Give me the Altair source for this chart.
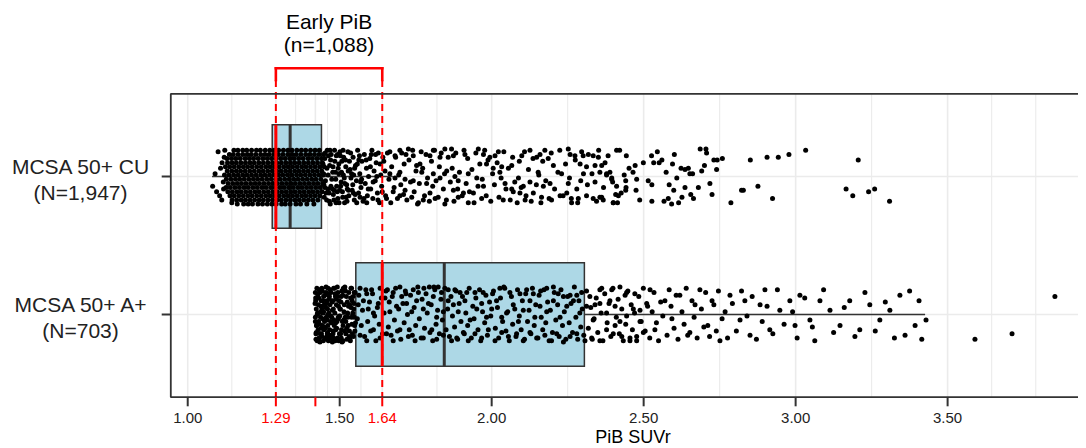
import altair as alt
import pandas as pd

# ---------------- categories, labels, breaks ----------------
GROUP_POS = [1, 2]
GROUP_LABELS = ["MCSA 50+ CU\n(N=1,947)", "MCSA 50+ A+\n(N=703)"]
ANNOT_LINES = ["Early PiB", "(n=1,088)"]
X_TITLE = "PiB SUVr"

X_BREAKS = [1.00, 1.29, 1.42, 1.50, 1.64, 2.00, 2.50, 3.00, 3.50]
X_LABELS = ["1.00", "1.29", "", "1.50", "1.64", "2.00", "2.50", "3.00", "3.50"]
X_BREAK_RED = [False, True, True, False, True, False, False, False, False]
X_MINOR = [1.145, 1.355, 1.46, 1.57, 1.82, 2.25, 2.75, 3.25, 3.645, 3.79]
CUTOFFS = [1.29, 1.64]

# ---------------- box statistics ----------------
BOX_LO = [1.08, 1.42]
BOX_Q1 = [1.278, 1.553]
BOX_MED = [1.337, 1.844]
BOX_Q3 = [1.440, 2.305]
BOX_HI = [1.675, 3.426]
BOX_REDLINE = [1.29, 1.64]

# ---------------- jittered points: (SUVr, vertical jitter in 1/100 of a category) ----------------
CU_CORE_ROWS = [
    (-19, [1.152, 1.165, 1.181, 1.194, 1.210, 1.226, 1.239, 1.255, 1.270, 1.284, 1.299, 1.315, 1.330, 1.343, 1.359, 1.374, 1.388, 1.404, 1.419, 1.433]),
    (-16, [1.137, 1.150, 1.166, 1.181, 1.196, 1.209, 1.224, 1.240, 1.254, 1.268, 1.284, 1.298, 1.313, 1.329, 1.344, 1.357, 1.372, 1.388, 1.402, 1.417, 1.432, 1.447]),
    (-13, [1.129, 1.144, 1.158, 1.173, 1.189, 1.203, 1.217, 1.232, 1.247, 1.262, 1.276, 1.291, 1.306, 1.321, 1.336, 1.350, 1.365, 1.380, 1.396, 1.410, 1.425, 1.440]),
    (-10, [1.131, 1.146, 1.160, 1.175, 1.190, 1.205, 1.219, 1.234, 1.249, 1.264, 1.279, 1.293, 1.308, 1.323, 1.338, 1.352, 1.367, 1.382, 1.397, 1.412, 1.427, 1.443]),
    (-7, [1.124, 1.138, 1.153, 1.168, 1.183, 1.197, 1.212, 1.227, 1.242, 1.257, 1.271, 1.286, 1.301, 1.316, 1.330, 1.345, 1.360, 1.375, 1.389, 1.404, 1.419, 1.434, 1.449]),
    (-4, [1.130, 1.145, 1.160, 1.174, 1.189, 1.204, 1.219, 1.234, 1.248, 1.263, 1.278, 1.293, 1.307, 1.322, 1.337, 1.352, 1.366, 1.381, 1.396, 1.411, 1.426, 1.441]),
    (-1, [1.121, 1.136, 1.151, 1.166, 1.181, 1.195, 1.210, 1.225, 1.240, 1.254, 1.269, 1.284, 1.299, 1.313, 1.328, 1.343, 1.358, 1.372, 1.387, 1.402, 1.417, 1.432, 1.446]),
    (2, [1.127, 1.142, 1.157, 1.171, 1.186, 1.201, 1.216, 1.230, 1.245, 1.260, 1.275, 1.290, 1.304, 1.319, 1.334, 1.349, 1.363, 1.378, 1.393, 1.408, 1.422, 1.438]),
    (5, [1.133, 1.148, 1.163, 1.177, 1.192, 1.207, 1.222, 1.236, 1.251, 1.266, 1.281, 1.295, 1.310, 1.325, 1.340, 1.354, 1.369, 1.384, 1.399, 1.414, 1.428, 1.444]),
    (8, [1.126, 1.140, 1.155, 1.170, 1.185, 1.199, 1.214, 1.229, 1.244, 1.258, 1.273, 1.288, 1.303, 1.317, 1.332, 1.347, 1.362, 1.376, 1.391, 1.406, 1.421, 1.436, 1.451]),
    (11, [1.132, 1.147, 1.162, 1.176, 1.191, 1.206, 1.221, 1.235, 1.250, 1.265, 1.280, 1.294, 1.309, 1.324, 1.339, 1.353, 1.368, 1.383, 1.398, 1.412, 1.427, 1.442]),
    (14, [1.139, 1.153, 1.168, 1.183, 1.198, 1.212, 1.227, 1.242, 1.257, 1.271, 1.286, 1.301, 1.316, 1.330, 1.345, 1.360, 1.375, 1.389, 1.404, 1.419, 1.434]),
    (17, [1.146, 1.161, 1.176, 1.190, 1.205, 1.220, 1.235, 1.249, 1.264, 1.279, 1.294, 1.308, 1.323, 1.338, 1.353, 1.367, 1.382, 1.397, 1.412, 1.428]),
    (20, [1.163, 1.184, 1.199, 1.213, 1.231, 1.246, 1.262, 1.277, 1.291, 1.309, 1.321, 1.337, 1.356, 1.371, 1.392, 1.415]),
]

CU_FRINGE = [(1.082, 7), (1.100, -18), (1.112, 17), (1.117, 4), (1.108, -6), (1.095, 11),
             (1.120, -14), (1.105, 14), (1.113, -10), (1.145, 19), (1.122, -19), (1.118, 9), (1.090, -2)]

CU_MID = [
    (1.452, -17), (1.458, -6), (1.461, 9), (1.466, 18), (1.470, -12), (1.474, 2), (1.479, 13), (1.483, -19),
    (1.486, -3), (1.490, 7), (1.494, 16), (1.497, -9), (1.502, -15), (1.505, 4), (1.509, 11), (1.512, -1),
    (1.516, 19), (1.519, -12), (1.523, 6), (1.527, -18), (1.530, 14), (1.534, -5), (1.537, 1), (1.541, 10),
    (1.544, -14), (1.548, 17), (1.552, -8), (1.555, 3), (1.559, -19), (1.562, 12), (1.566, -2), (1.570, 8),
    (1.573, -11), (1.577, 18), (1.581, -16), (1.584, 5), (1.588, -6), (1.591, 14), (1.595, 0), (1.599, -13),
    (1.602, 9), (1.606, -19), (1.609, 16), (1.613, -4), (1.617, 3), (1.620, -10), (1.624, 12), (1.627, -17),
    (1.631, 19), (1.635, -1), (1.638, 7), (1.642, -14),
    (1.455, 12), (1.463, -15), (1.471, 7), (1.478, -7), (1.488, 19), (1.493, -16), (1.500, 10), (1.507, -11),
    (1.515, 1), (1.521, 15), (1.528, -4), (1.536, -17), (1.543, 6), (1.551, 13), (1.558, -9), (1.565, -15),
    (1.572, 2), (1.580, 16), (1.587, -12), (1.594, 9), (1.601, -7), (1.610, 4), (1.618, -16), (1.626, 17),
    (1.633, -9), (1.640, 11), (1.447, -2), (1.449, 15), (1.468, -19), (1.482, 10), (1.497, -2), (1.511, -19),
    (1.525, 9), (1.546, -1), (1.567, 15), (1.589, 19), (1.604, -16), (1.622, 0),
]

CU_MID_EXTRA = [
    (1.445, -9), (1.448, 6), (1.451, -13), (1.453, 3), (1.457, 17), (1.459, -19), (1.462, -1), (1.465, 12),
    (1.467, -8), (1.469, 20), (1.472, -16), (1.476, 9), (1.477, -3), (1.481, 17), (1.484, -11), (1.487, 2),
    (1.489, -15), (1.492, 11), (1.495, -6), (1.498, 19), (1.501, -18), (1.503, 7), (1.506, -3), (1.510, 15),
    (1.513, -14), (1.517, 5), (1.520, -7), (1.524, 18), (1.529, 10), (1.532, -11), (1.539, -2), (1.545, 12),
    (1.549, -6), (1.556, 19), (1.563, -12), (1.569, 4),
]

CU_SPREAD = [
    (1.665, -18), (1.682, -15), (1.698, -19), (1.718, -16), (1.726, -20), (1.742, -15), (1.764, -9), (1.797, -15),
    (1.808, -19), (1.830, -14), (1.846, -20), (1.868, -20), (1.874, -15), (1.912, -16), (1.956, -20), (1.973, -16),
    (1.994, -14), (2.011, -15), (2.022, -18), (1.983, -9), (2.005, -6), (2.033, -7), (2.066, -8), (2.099, -15),
    (2.126, -19), (2.148, -14), (2.159, -16), (2.175, -19), (2.186, -13), (2.203, -8), (2.252, -20), (2.258, -16),
    (2.274, -15), (2.296, -18), (2.318, -16), (2.334, -15), (2.351, -14), (2.291, -9), (2.312, -7), (2.340, -8),
    (2.373, -10), (2.411, -19),
    (1.649, -4), (1.665, -2), (1.682, 1), (1.698, -3), (1.715, 2), (1.742, 3), (1.753, -8), (1.770, -3),
    (1.786, 5), (1.808, -2), (1.830, 1), (1.852, -4), (1.879, 0), (1.890, 3), (1.923, -2), (1.951, 1),
    (1.973, 7), (2.027, -3), (2.044, 5), (2.066, 9), (2.088, 1), (2.104, 7), (2.126, 4), (2.153, -3),
    (2.170, 7), (2.192, 5), (2.230, -2), (2.252, 5), (2.280, 9), (2.302, -2), (2.340, 4), (2.378, -2),
    (2.395, 1), (2.411, 7),
    (1.654, 16), (1.676, 11), (1.698, 14), (1.715, 10), (1.737, 15), (1.759, 19), (1.775, 17), (1.797, 12),
    (1.814, 16), (1.846, 20), (1.874, 10), (1.890, 15), (1.907, 12), (1.923, 19), (1.940, 12), (1.967, 16),
    (2.038, 17), (2.071, 11), (2.093, 12), (2.110, 17), (2.137, 12), (2.164, 15), (2.197, 17), (2.225, 14),
    (2.247, 12), (2.263, 19), (2.285, 16), (2.312, 14), (2.334, 16), (2.356, 15), (2.400, 19), (2.417, 14),
]

CU_FAR = [
    (2.421, -19), (2.443, -15), (2.362, -8), (2.356, -3), (2.389, -3), (2.378, -1), (2.395, 2), (2.436, -1),
    (2.441, 3), (2.442, 8), (2.441, 10), (2.472, -8), (2.465, -3), (2.477, 2), (2.475, 10), (2.499, -10),
    (2.526, -15), (2.533, -10), (2.551, -10), (2.560, -12), (2.601, -16), (2.595, -9), (2.623, -6), (2.636, -5),
    (2.647, -6), (2.652, -2), (2.661, -2), (2.691, -4), (2.686, -20), (2.705, -20), (2.707, -17), (2.731, -12),
    (2.742, -12), (2.759, -13), (2.740, -5), (2.718, 5), (2.725, 13), (2.680, 8), (2.636, 8), (2.664, 16),
    (2.626, 15), (2.615, 19), (2.592, 20), (2.581, 16), (2.567, 18), (2.599, 10), (2.584, 6), (2.527, 6),
    (2.527, 18), (2.408, 13), (2.426, 12), (2.400, 19), (2.414, 19), (2.362, 15), (2.367, 17),
]

CU_TAIL = [
    (2.787, 19), (2.822, 10), (2.828, 10), (2.876, 7), (2.924, 16), (2.851, -12), (2.906, -14), (2.943, -14),
    (2.978, -16), (3.033, -19), (3.206, -12), (3.166, 9), (3.188, 14), (3.240, 11), (3.260, 9), (3.309, 18),
]

CU_EXTRA = [
    (1.645, -11), (1.651, 14), (1.657, -17), (1.662, 2), (1.668, 19), (1.671, -7), (1.679, 8), (1.684, -14),
    (1.690, 16), (1.694, -1), (1.701, 6), (1.704, -17), (1.710, 13), (1.712, -9), (1.721, 17), (1.728, -12),
    (1.733, 4), (1.740, -19), (1.745, 11), (1.751, -4), (1.756, 20), (1.762, 5), (1.768, -18), (1.773, -6),
    (1.779, 14), (1.784, -16), (1.789, 1), (1.795, 18), (1.802, -11), (1.806, 7), (1.812, -19), (1.817, 3),
    (1.824, 15), (1.828, -7), (1.834, -17), (1.841, 9), (1.845, -2), (1.851, 17), (1.857, -14), (1.864, 4),
    (1.870, -6), (1.876, 18), (1.882, -17), (1.888, 9), (1.894, -3), (1.903, 14), (1.909, -19), (1.916, 5),
    (1.921, -13), (1.927, 11), (1.935, -5), (1.942, 19), (1.948, -17), (1.955, 7), (1.961, -9), (1.969, 2),
    (1.977, -19), (1.982, 14), (1.988, -12), (1.997, 18), (2.003, -2), (2.009, 6), (2.018, -10), (2.024, 15),
    (2.031, 1), (2.040, -18), (2.047, 9), (2.055, -6), (2.061, 17), (2.069, -14), (2.076, 4), (2.084, 19),
    (2.091, -11), (2.097, 8), (2.108, -18), (2.113, 14), (2.121, -5), (2.130, 18), (2.136, -13), (2.147, 6),
    (2.155, -1), (2.162, 19), (2.168, -11), (2.178, 3), (2.189, 16), (2.196, -17), (2.207, 9), (2.218, -3),
    (2.224, -19), (2.235, 14), (2.243, -9), (2.256, 1), (2.262, 16), (2.275, -12), (2.283, 19), (2.293, 3),
    (2.301, -15), (2.315, 6), (2.330, -2), (2.345, 18), (2.352, -19), (2.368, 8), (2.383, -15), (2.398, 4),
    (2.452, -6), (2.487, 17), (2.515, 3), (2.545, -18), (2.574, -3), (2.609, 1), (2.655, 13), (2.700, -8),
]

AP_LEFT_ROWS = [
    (-19, [1.425, 1.441, 1.462, 1.480, 1.512, 1.537]),
    (-16, [1.420, 1.436, 1.455, 1.471, 1.494, 1.530, 1.548]),
    (-13, [1.428, 1.447, 1.466, 1.486, 1.505, 1.522]),
    (-10, [1.421, 1.439, 1.458, 1.477, 1.498, 1.541]),
    (-7, [1.430, 1.449, 1.468, 1.489, 1.515, 1.533]),
    (-4, [1.423, 1.442, 1.460, 1.479, 1.502, 1.546]),
    (-1, [1.427, 1.445, 1.464, 1.484, 1.526]),
    (2, [1.420, 1.437, 1.456, 1.474, 1.495, 1.518, 1.539]),
    (5, [1.431, 1.450, 1.470, 1.491, 1.509]),
    (8, [1.424, 1.443, 1.461, 1.482, 1.528, 1.549]),
    (11, [1.429, 1.448, 1.467, 1.487, 1.506]),
    (14, [1.422, 1.440, 1.459, 1.478, 1.499, 1.520, 1.542]),
    (17, [1.432, 1.452, 1.472, 1.493, 1.534]),
    (19, [1.426, 1.446, 1.463, 1.485, 1.511]),
]

AP_LEFT_EXTRA = [
    (1.433, -18), (1.451, -14), (1.469, -18), (1.488, -11), (1.507, -17), (1.525, -9), (1.544, -13), (1.421, -12),
    (1.438, -6), (1.457, -8), (1.476, -3), (1.496, -6), (1.514, -2), (1.537, -5), (1.426, 0), (1.444, 3),
    (1.462, 0), (1.481, 4), (1.500, 1), (1.520, 5), (1.548, 2), (1.434, 7), (1.453, 10), (1.473, 6),
    (1.490, 10), (1.511, 8), (1.532, 12), (1.552, 6), (1.423, 13), (1.441, 16), (1.460, 13), (1.480, 17),
    (1.503, 14), (1.524, 18), (1.545, 16), (1.435, 20), (1.457, 18), (1.476, 20), (1.497, 19), (1.517, -20),
    (1.539, -19), (1.455, -20), (1.419, -8), (1.420, 5), (1.422, 18), (1.428, -15), (1.447, -2), (1.466, -11),
    (1.485, -15), (1.492, -20), (1.504, -9), (1.516, 12), (1.527, 2), (1.535, 19), (1.543, -1), (1.551, -16),
    (1.508, 20), (1.467, 15), (1.439, 10), (1.459, 4),
    (1.431, -12), (1.437, -2), (1.443, -17), (1.449, 9), (1.454, -5), (1.458, 16), (1.465, -15), (1.470, 1),
    (1.475, -9), (1.479, 12), (1.483, -19), (1.487, 6), (1.493, -13), (1.496, 3), (1.501, -4), (1.505, 17),
    (1.510, -14), (1.513, 4), (1.519, -17), (1.523, 10), (1.529, -6), (1.531, 16), (1.536, -12), (1.540, 7),
    (1.547, -8), (1.550, 12), (1.424, 8), (1.429, 19), (1.436, 14), (1.445, -10),
]

AP_BOX = [
    (1.567, -19), (1.589, -15), (1.605, -18), (1.633, -19), (1.657, -18), (1.676, -16), (1.698, -20), (1.718, -15),
    (1.742, -18), (1.759, -16), (1.777, -19), (1.795, -20), (1.810, -20), (1.824, -20), (1.835, -16), (1.857, -18),
    (1.879, -18), (1.896, -16), (1.918, -16), (1.945, -16), (1.972, -16), (2.003, -15), (2.027, -19), (2.040, -20),
    (2.060, -16), (2.093, -15), (2.115, -18), (2.137, -15), (2.161, -17), (2.181, -19), (2.203, -20), (2.219, -15),
    (2.236, -13), (2.258, -14), (2.280, -14), (2.296, -16), (2.323, -13), (2.362, -19), (2.395, -18), (2.422, -20),
    (2.444, -16), (2.471, -15), (2.510, -8),
    (1.561, -7), (1.578, -10), (1.594, -4), (1.611, -1), (1.627, -8), (1.649, -12), (1.665, -2), (1.687, -6),
    (1.704, -13), (1.720, -8), (1.737, -2), (1.753, -10), (1.775, -4), (1.792, -8), (1.808, -13), (1.819, 2),
    (1.841, -2), (1.857, -10), (1.874, -7), (1.890, -2), (1.912, -10), (1.929, 4), (1.951, -4), (1.967, -8),
    (1.983, 2), (2.000, -4), (2.016, -10), (2.033, 2), (2.049, -1), (2.071, -7), (2.088, 5), (2.104, -3),
    (2.126, -10), (2.142, 2), (2.159, -6), (2.181, -2), (2.203, -10), (2.225, 2), (2.247, -6), (2.269, -10),
    (2.290, -1), (2.312, -6), (2.334, 4), (2.356, -8), (2.378, -1), (2.406, -6), (2.422, 5), (2.444, 1),
    (2.466, -4), (2.488, 5),
    (1.567, 15), (1.589, 19), (1.611, 11), (1.633, 17), (1.654, 14), (1.676, 19), (1.698, 11), (1.726, 16),
    (1.748, 19), (1.775, 17), (1.803, 11), (1.819, 18), (1.841, 15), (1.868, 19), (1.885, 17), (1.907, 13),
    (1.923, 19), (1.945, 14), (1.967, 17), (1.989, 11), (2.011, 19), (2.033, 13), (2.055, 16), (2.082, 14),
    (2.104, 19), (2.126, 13), (2.148, 17), (2.175, 15), (2.197, 19), (2.214, 14), (2.236, 20), (2.258, 16),
    (2.280, 14), (2.307, 19), (2.329, 17), (2.356, 19), (2.378, 11), (2.400, 14), (2.428, 16), (2.455, 17),
    (2.477, 19), (2.499, 13),
]

AP_BOX_EXTRA = [
    (1.558, 3), (1.563, -14), (1.571, 8), (1.575, -3), (1.582, 16), (1.586, -18), (1.592, 5), (1.598, -9),
    (1.602, 12), (1.608, -15), (1.615, 1), (1.619, 19), (1.624, -5), (1.630, 7), (1.637, -12), (1.641, 14),
    (1.646, -1), (1.652, -17), (1.660, 9), (1.663, -9), (1.669, 15), (1.673, -13), (1.680, 4), (1.684, -19),
    (1.690, 12), (1.694, -4), (1.701, 18), (1.708, -8), (1.712, 6), (1.716, -17), (1.723, 0), (1.729, 11),
    (1.733, -14), (1.739, 15), (1.745, -5), (1.750, 8), (1.757, -20), (1.762, 3), (1.768, 17), (1.771, -11),
    (1.779, 10), (1.784, -15), (1.788, -1), (1.797, 13), (1.801, -7), (1.806, 19), (1.813, -18), (1.817, 7),
    (1.822, -3), (1.828, 14), (1.833, -11), (1.838, 4), (1.846, -19), (1.850, 11), (1.855, -4), (1.861, 16),
    (1.866, -13), (1.871, 1), (1.878, 9), (1.883, -17), (1.888, 18), (1.893, -8), (1.899, 5), (1.904, -13),
    (1.910, 14), (1.915, -1), (1.921, 8), (1.926, -19), (1.933, 17), (1.938, -6), (1.942, 3), (1.948, -12),
    (1.955, 11), (1.960, -18), (1.964, 19), (1.970, -2), (1.977, 6), (1.981, -14), (1.986, 15), (1.993, -9),
    (1.997, 1), (2.006, -17), (2.012, 10), (2.019, -5), (2.023, 17), (2.029, -12), (2.036, 5), (2.043, -19),
    (2.047, 12), (2.053, -2), (2.058, 19), (2.065, -13), (2.069, 7), (2.076, -4), (2.080, 16), (2.085, -18),
    (2.091, 1), (2.097, 11), (2.101, -10), (2.108, 18), (2.112, -15), (2.118, 5), (2.123, -3), (2.129, 14),
    (2.134, -19), (2.140, 8), (2.145, -7), (2.152, 17), (2.156, -14), (2.163, 2), (2.168, 11), (2.172, -18),
    (2.178, 6), (2.184, -9), (2.189, 19), (2.193, -3), (2.200, 13), (2.206, -16), (2.211, 4), (2.217, -7),
    (2.222, 16), (2.228, -18), (2.233, 8), (2.239, -2), (2.244, 18), (2.250, -13), (2.255, 6), (2.261, -8),
    (2.266, 13), (2.272, -20), (2.277, 2), (2.283, 18), (2.287, -10), (2.293, 9), (2.298, -4), (2.303, 15),
]

AP_TAIL = [
    (2.340, -7), (2.356, -18), (2.389, -10), (2.406, 8), (2.439, -14), (2.455, 19), (2.488, -3), (2.521, -18),
    (2.537, 11), (2.570, -10), (2.593, 3), (2.619, -14), (2.645, 15), (2.669, -7), (2.685, -18), (2.711, 8),
    (2.725, -10), (2.751, 19), (2.768, -2), (2.784, -14), (2.817, 4), (2.833, -10), (2.850, 15), (2.883, -7),
    (2.899, -18), (2.915, 11), (2.948, -3), (2.981, -10), (2.998, 8), (3.014, -14), (3.047, 4), (3.063, 19),
    (3.080, -10), (3.113, -3), (3.146, 8), (3.178, -10), (3.211, 11), (3.244, -7), (3.277, 4), (3.310, -3),
    (3.343, -14), (3.360, 15), (3.393, 8), (3.406, -10), (3.429, 4),
]

AP_TAIL_EXTRA = [
    (2.312, -17), (2.318, 10), (2.326, -5), (2.331, 18), (2.337, 3), (2.344, -12), (2.349, 13), (2.360, -1),
    (2.366, 19), (2.372, -15), (2.380, 6), (2.386, -8), (2.392, 16), (2.399, -19), (2.410, 2), (2.416, -11),
    (2.420, 14), (2.428, -4), (2.433, 19), (2.441, 7), (2.448, -17), (2.459, -7), (2.463, 11), (2.470, -1),
    (2.477, 16), (2.484, -13), (2.492, 5), (2.499, -19), (2.505, 12), (2.513, -6), (2.520, 17), (2.528, -2),
    (2.534, -16), (2.542, 6), (2.549, 19), (2.556, -9), (2.563, 1), (2.577, 15), (2.584, -18), (2.590, -6),
    (2.600, 10), (2.607, -14), (2.613, 18), (2.626, -2), (2.633, 7), (2.640, -19), (2.652, 13), (2.659, -10),
    (2.666, 2), (2.676, 17), (2.690, -4), (2.698, 9), (2.704, -16), (2.717, 16), (2.731, -7), (2.739, 12),
    (2.746, -17), (2.758, 3), (2.776, 17), (2.792, -8), (2.805, 12), (2.822, -17), (2.840, 1), (2.857, -13),
    (2.871, 18), (2.890, 5), (2.906, -6), (2.925, 14), (2.940, -18), (2.962, 7), (2.990, -2), (3.005, 17),
    (3.030, -12), (3.055, 9), (3.092, -18), (3.125, 13), (3.160, -5), (3.195, 16), (3.228, -16), (3.262, 12),
    (3.295, -9), (3.325, 17), (3.375, -17), (3.415, 18),
]

AP_OUTLIERS = [(3.590, 18), (3.712, 14), (3.853, -13)]

# ---------------- build tables ----------------
pts = []


def add_points(group, pairs):
    for x, j in pairs:
        pts.append({"suvr": x, "pos": group + j / 100.0})


for j, xs in CU_CORE_ROWS:
    add_points(1, [(x, j) for x in xs])
for lst in (CU_FRINGE, CU_MID, CU_MID_EXTRA, CU_SPREAD, CU_FAR, CU_TAIL, CU_EXTRA):
    add_points(1, lst)
for j, xs in AP_LEFT_ROWS:
    add_points(2, [(x, j) for x in xs])
for lst in (AP_LEFT_EXTRA, AP_BOX, AP_BOX_EXTRA, AP_TAIL, AP_TAIL_EXTRA, AP_OUTLIERS):
    add_points(2, lst)
points_df = pd.DataFrame(pts)

RED = "#ff0000"
DARK = "#333333"
TXT = "#222222"
GRID = "#ebebeb"

box_df = pd.DataFrame({
    "g": GROUP_POS, "lo": BOX_LO, "q1": BOX_Q1, "med": BOX_MED,
    "q3": BOX_Q3, "hi": BOX_HI, "red": BOX_REDLINE, "lab": GROUP_LABELS,
})
minor_df = pd.DataFrame({"v": X_MINOR})
breaks_df = pd.DataFrame({
    "v": X_BREAKS, "lab": X_LABELS,
    "col": [RED if r else DARK for r in X_BREAK_RED],
    "tcol": [RED if r else TXT for r in X_BREAK_RED],
})
cut_df = pd.DataFrame({"c": CUTOFFS})
bracket_df = pd.DataFrame({"a": [CUTOFFS[0]], "b": [CUTOFFS[1]]})
annot_df = pd.DataFrame({"x": [(CUTOFFS[0] + CUTOFFS[1]) / 2], "t1": [ANNOT_LINES[0]], "t2": [ANNOT_LINES[1]]})
title_df = pd.DataFrame({"t": [X_TITLE]})

# ---------------- layout ----------------
W, H = 907.3, 303.6
FONT = "Liberation Sans"
TICK = 9
LABPAD = 17

XS = alt.Scale(domain=[0.944, 3.929], nice=False, zero=False)
YS = alt.Scale(domain=[0.4, 2.6], reverse=True, nice=False, zero=False)


def X(field):
    return alt.X(field, scale=XS, axis=None)


def Y(field):
    return alt.Y(field, scale=YS, axis=None)


# grid
minor = alt.Chart(minor_df).mark_rule(color=GRID, strokeWidth=1.1).encode(
    x=X("v:Q"), y=alt.value(0), y2=alt.value(H))
major = alt.Chart(breaks_df).mark_rule(color=GRID, strokeWidth=1.6).encode(
    x=X("v:Q"), y=alt.value(0), y2=alt.value(H))
hgrid = alt.Chart(box_df).mark_rule(color=GRID, strokeWidth=1.6).encode(
    y=Y("g:Q"), x=alt.value(0), x2=alt.value(W))

# boxplot
box_calc = dict(top="datum.g - 0.375", bot="datum.g + 0.375")
boxes = alt.Chart(box_df).transform_calculate(**box_calc).mark_rect(
    fill="#add8e6", stroke=DARK, strokeWidth=1.5).encode(
    x=X("q1:Q"), x2="q3:Q", y=Y("top:Q"), y2="bot:Q")
whisk_lo = alt.Chart(box_df).mark_rule(color=DARK, strokeWidth=1.5).encode(
    x=X("lo:Q"), x2="q1:Q", y=Y("g:Q"))
whisk_hi = alt.Chart(box_df).mark_rule(color=DARK, strokeWidth=1.5).encode(
    x=X("q3:Q"), x2="hi:Q", y=Y("g:Q"))
median = alt.Chart(box_df).transform_calculate(**box_calc).mark_rule(color=DARK, strokeWidth=3).encode(
    x=X("med:Q"), y=Y("top:Q"), y2="bot:Q")

dots = alt.Chart(points_df).mark_circle(size=25, color="#000000", opacity=1).encode(
    x=X("suvr:Q"), y=Y("pos:Q"))

redsolid = alt.Chart(box_df).transform_calculate(**box_calc).mark_rule(color=RED, strokeWidth=3).encode(
    x=X("red:Q"), y=Y("top:Q"), y2="bot:Q")
dashed = alt.Chart(cut_df).mark_rule(color=RED, strokeWidth=2, strokeDash=[7, 5]).encode(
    x=X("c:Q"), y=alt.value(-13.7), y2=alt.value(H))

# panel border (left, top, bottom; right edge falls outside the picture)
border_top = alt.Chart(box_df).mark_rule(color=DARK, strokeWidth=1.5).encode(
    x=alt.value(0), x2=alt.value(W), y=alt.value(0))
border_bottom = alt.Chart(box_df).mark_rule(color=DARK, strokeWidth=1.5).encode(
    x=alt.value(0), x2=alt.value(W), y=alt.value(H))
border_left = alt.Chart(box_df).mark_rule(color=DARK, strokeWidth=1.5).encode(
    x=alt.value(0), y=alt.value(0), y2=alt.value(H))

# x axis ticks, labels, title
xticks = alt.Chart(breaks_df).mark_rule(strokeWidth=2).encode(
    x=X("v:Q"), y=alt.value(H), y2=alt.value(H + TICK), color=alt.Color("col:N", scale=None))
xlabels = alt.Chart(breaks_df).mark_text(
    font=FONT, fontSize=15, align="center", baseline="alphabetic").encode(
    x=X("v:Q"), y=alt.value(H + TICK + LABPAD), text="lab:N", color=alt.Color("tcol:N", scale=None))
xtitle = alt.Chart(title_df).mark_text(
    font=FONT, fontSize=18, color="#000000", align="center", baseline="alphabetic").encode(
    x=alt.value(462.3), y=alt.value(H + 45.2), text="t:N")

# y axis ticks and labels
yticks = alt.Chart(box_df).mark_rule(color=DARK, strokeWidth=2).encode(
    y=Y("g:Q"), x=alt.value(-TICK), x2=alt.value(0))
ylabels = alt.Chart(box_df).mark_text(
    font=FONT, fontSize=21, color=TXT, align="center", baseline="alphabetic",
    lineBreak="\n", lineHeight=25.8, dy=-2.5).encode(
    y=Y("g:Q"), x=alt.value(-90.2), text="lab:N")

# bracket and annotation
bracket_top = alt.Chart(bracket_df).mark_rule(color=RED, strokeWidth=2.6, strokeCap="square").encode(
    x=X("a:Q"), x2="b:Q", y=alt.value(-25.4))
bracket_legs = alt.Chart(cut_df).mark_rule(color=RED, strokeWidth=2.6, strokeCap="square").encode(
    x=X("c:Q"), y=alt.value(-25.4), y2=alt.value(-13.7))
annot1 = alt.Chart(annot_df).mark_text(
    font=FONT, fontSize=21, color="#000000", align="center", baseline="alphabetic").encode(
    x=X("x:Q"), y=alt.value(-64.4), text="t1:N")
annot2 = alt.Chart(annot_df).mark_text(
    font=FONT, fontSize=21, color="#000000", align="center", baseline="alphabetic").encode(
    x=X("x:Q"), y=alt.value(-41.4), text="t2:N")

chart = alt.layer(
    minor, major, hgrid, boxes, whisk_lo, whisk_hi, median, dots, redsolid, dashed,
    border_top, border_bottom, border_left, xticks, xlabels, xtitle, yticks, ylabels,
    bracket_top, bracket_legs, annot1, annot2,
).properties(
    width=W, height=H,
    autosize=alt.AutoSizeParams(type="none"),
    padding={"left": 162.7, "top": 85.7, "right": 0, "bottom": 50.7},
).configure_view(stroke="transparent")

chart.save("out.html", embed_options={"renderer": "svg", "actions": False})
